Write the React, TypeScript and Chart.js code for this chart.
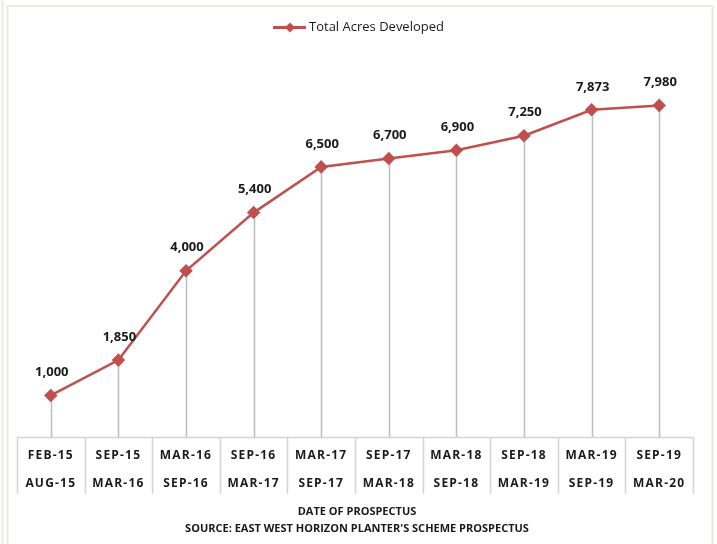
import React, { useEffect, useRef } from "react";
import { Chart, registerables } from "chart.js";

Chart.register(...registerables);

const seriesLabel = "Total Acres Developed";
const periodStart = ["FEB-15", "SEP-15", "MAR-16", "SEP-16", "MAR-17", "SEP-17", "MAR-18", "SEP-18", "MAR-19", "SEP-19"];
const periodEnd = ["AUG-15", "MAR-16", "SEP-16", "MAR-17", "SEP-17", "MAR-18", "SEP-18", "MAR-19", "SEP-19", "MAR-20"];
const acres = [1000, 1850, 4000, 5400, 6500, 6700, 6900, 7250, 7873, 7980];
const axisTitle = ["DATE OF PROSPECTUS", "SOURCE: EAST WEST HORIZON PLANTER'S SCHEME PROSPECTUS"];
const yMin = 0;
const yMax = 9000;

const RED = "#C0504D";
const TEXT = "#1a1a1a";
const FRAME = "#ECE9DF";
const GRID = "#D4D4D4";

const framePlugin = {
  id: "frame",
  beforeDraw(chart: any) {
    const ctx = chart.ctx;
    ctx.save();
    ctx.fillStyle = "#ffffff";
    ctx.fillRect(0, 0, chart.width, chart.height);
    ctx.strokeStyle = FRAME;
    ctx.lineWidth = 2;
    ctx.beginPath();
    ctx.moveTo(2.5, 0);
    ctx.lineTo(2.5, chart.height);
    ctx.moveTo(7.5, chart.height);
    ctx.lineTo(7.5, 6);
    ctx.lineTo(712.5, 6);
    ctx.lineTo(712.5, chart.height);
    ctx.stroke();
    ctx.restore();
    (ctx as any).letterSpacing = "1.2px";
  },
};

const axisBoxPlugin = {
  id: "axisBox",
  beforeDatasetsDraw(chart: any) {
    const ctx = chart.ctx;
    const xs = chart.scales.x;
    const area = chart.chartArea;
    const n = chart.data.labels.length;
    const half = (xs.getPixelForValue(1) - xs.getPixelForValue(0)) / 2;
    ctx.save();
    ctx.strokeStyle = GRID;
    ctx.lineWidth = 1.5;
    ctx.beginPath();
    ctx.moveTo(xs.getPixelForValue(0) - half, area.bottom + 0.5);
    ctx.lineTo(xs.getPixelForValue(n - 1) + half, area.bottom + 0.5);
    for (let i = 0; i <= n; i++) {
      const x = Math.round(xs.getPixelForValue(0) - half + i * 2 * half) + 0.5;
      ctx.moveTo(x, area.bottom);
      ctx.lineTo(x, area.bottom + 57);
    }
    ctx.stroke();
    // drop lines
    const meta = chart.getDatasetMeta(0);
    ctx.strokeStyle = "#BDBDBD";
    ctx.lineWidth = 1.5;
    ctx.beginPath();
    meta.data.forEach((pt: any) => {
      const x = Math.round(pt.x) + 0.5;
      ctx.moveTo(x, pt.y);
      ctx.lineTo(x, area.bottom);
    });
    ctx.stroke();
    ctx.restore();
  },
};

const annotatePlugin = {
  id: "annotate",
  afterDraw(chart: any) {
    const ctx = chart.ctx;
    (ctx as any).letterSpacing = "0px";
    const meta = chart.getDatasetMeta(0);
    const values = chart.data.datasets[0].data as number[];
    ctx.save();
    // data labels
    ctx.fillStyle = TEXT;
    ctx.font = "bold 13px 'Open Sans'";
    ctx.textAlign = "center";
    ctx.textBaseline = "middle";
    meta.data.forEach((pt: any, i: number) => {
      ctx.fillText(values[i].toLocaleString("en-US"), pt.x + 1, pt.y - 23);
    });
    // legend
    const label = chart.data.datasets[0].label;
    ctx.font = "13px 'Open Sans'";
    const tw = ctx.measureText(label).width;
    const total = 36 + tw;
    const sx = chart.width / 2 - total / 2;
    const ly = 27.5;
    ctx.strokeStyle = RED;
    ctx.lineWidth = 3;
    ctx.beginPath();
    ctx.moveTo(sx, ly);
    ctx.lineTo(sx + 33, ly);
    ctx.stroke();
    ctx.fillStyle = RED;
    ctx.beginPath();
    ctx.moveTo(sx + 17, ly - 5);
    ctx.lineTo(sx + 22, ly);
    ctx.lineTo(sx + 17, ly + 5);
    ctx.lineTo(sx + 12, ly);
    ctx.closePath();
    ctx.fill();
    ctx.fillStyle = TEXT;
    ctx.textAlign = "left";
    ctx.fillText(label, sx + 36, ly);
    // axis title
    ctx.font = "bold 11px 'Open Sans'";
    ctx.textAlign = "center";
    const cx = 357;
    ctx.fillText(axisTitle[0], cx, 512);
    ctx.fillText(axisTitle[1], cx, 529);
    ctx.restore();
  },
};

export default function App() {
  const ref = useRef<HTMLCanvasElement>(null);
  useEffect(() => {
    if (!ref.current) return;
    const labels = periodStart.map((s, i) => [s, periodEnd[i]]);
    const chart = new Chart(ref.current, {
      type: "line",
      data: {
        labels,
        datasets: [
          {
            label: seriesLabel,
            data: acres,
            borderColor: RED,
            backgroundColor: RED,
            borderWidth: 2.5,
            pointStyle: "rectRot",
            pointRadius: 5,
            pointBackgroundColor: RED,
            pointBorderColor: RED,
            tension: 0,
          },
        ],
      },
      options: {
        responsive: false,
        animation: false,
        layout: { padding: { left: 17, right: 24, top: 63, bottom: 0 } },
        plugins: {
          legend: { display: false },
          tooltip: { enabled: false },
          title: { display: false },
        },
        scales: {
          x: {
            type: "category",
            offset: true,
            grid: { display: false, drawTicks: false },
            border: { display: false },
            ticks: {
              color: TEXT,
              font: { family: "'Open Sans'", size: 12, weight: "bold", lineHeight: 28 / 12 },
              padding: 5,
              maxRotation: 0,
              autoSkip: false,
            },
            afterFit: (scale: any) => {
              scale.height = 107;
            },
          },
          y: {
            display: false,
            min: yMin,
            max: yMax,
          },
        },
      },
      plugins: [framePlugin, axisBoxPlugin, annotatePlugin],
    });
    return () => chart.destroy();
  }, []);
  return (
    <div style={{ position: "absolute", left: 0, top: 0, width: 717, height: 544 }}>
      <canvas ref={ref} width={717} height={544} style={{ width: 717, height: 544, display: "block" }} />
    </div>
  );
}
